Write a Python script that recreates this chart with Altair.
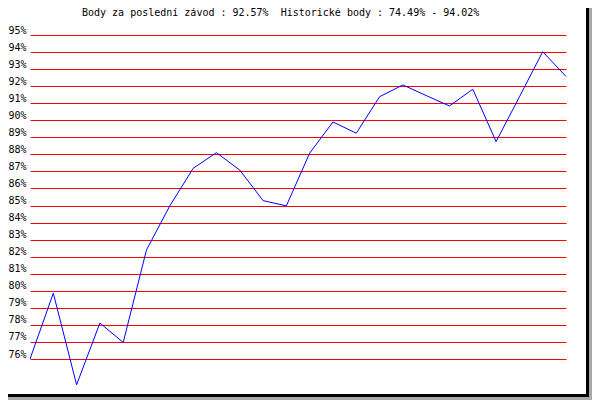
import altair as alt
import pandas as pd

# ---- data ----
points = [76.0, 79.86, 74.49, 78.11, 76.97, 82.40, 84.98, 87.18, 88.10, 87.08,
          85.29, 84.98, 88.07, 89.90, 89.24, 91.38, 92.07, 91.45, 90.84, 91.82,
          88.75, 91.37, 94.02, 92.57]
races = list(range(1, len(points) + 1))
grid_levels = list(range(76, 96))
title_text = "Body za poslední závod : 92.57%\u00a0 Historické body : 74.49% - 94.02%"

df = pd.DataFrame({"race": races, "body": points})
one = pd.DataFrame({"k": [0]})

FONT = "DejaVu Sans Mono"

x_scale = alt.Scale(domain=[1, len(points)], nice=False, zero=False)
y_scale = alt.Scale(domain=[76, 95], nice=False, zero=False)

line = alt.Chart(df).mark_line(color="#0000ff", strokeWidth=1).encode(
    x=alt.X("race:Q", scale=x_scale, axis=None),
    y=alt.Y(
        "body:Q",
        scale=y_scale,
        axis=alt.Axis(
            values=grid_levels,
            labelExpr="datum.value + '%'",
            grid=True,
            gridColor="#ff0000",
            gridOpacity=1,
            gridWidth=1,
            domain=False,
            ticks=False,
            labelPadding=4,
            labelFont=FONT,
            labelFontSize=10,
            labelColor="#000000",
            labelBaseline="alphabetic",
            labelOffset=-2,
            labelFlush=False,
            labelOverlap=False,
            title=None,
        ),
    ),
)

title = alt.Chart(one).mark_text(
    text=title_text,
    font=FONT,
    fontSize=10,
    color="#000000",
    align="left",
    baseline="alphabetic",
).encode(x=alt.value(52), y=alt.value(-19))


def frame_piece(color, x0, x1, y0, y1):
    return alt.Chart(one).mark_rect(color=color, opacity=1).encode(
        x=alt.value(x0), x2=alt.value(x1), y=alt.value(y0), y2=alt.value(y1)
    )


frame = [
    frame_piece("#a8a8a8", 559, 562, -30, 365),
    frame_piece("#a8a8a8", -25, 562, 362, 365),
    frame_piece("#000000", 556, 559, -35, 362),
    frame_piece("#000000", -30, 559, 359, 362),
]

chart = alt.layer(line, title, *frame).properties(
    width=536,
    height=324,
    padding={"left": 22, "top": 27, "right": 26, "bottom": 41},
    autosize="none",
    background="#ffffff",
).configure_view(stroke=None)

chart.save("out.html", embed_options={"renderer": "svg", "actions": False})
